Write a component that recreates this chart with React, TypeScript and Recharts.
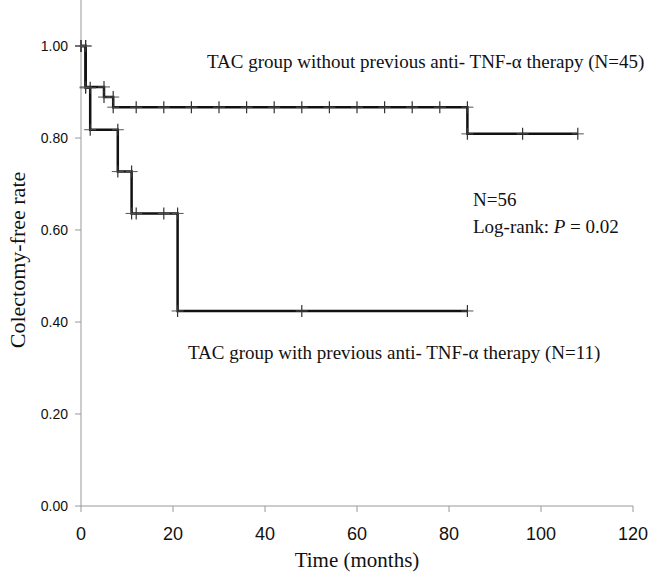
import React from 'react';
import { LineChart, Line, XAxis, YAxis, Customized } from 'recharts';

// Kaplan-Meier estimates (event and censor times in months)
const withoutTimes = [0, 1, 5, 7, 12, 18, 24, 30, 36, 42, 48, 54, 60, 66, 72, 78, 84, 96, 108];
const withoutRates = [1.0, 0.911, 0.889, 0.867, 0.867, 0.867, 0.867, 0.867, 0.867, 0.867, 0.867, 0.867, 0.867, 0.867, 0.867, 0.867, 0.809, 0.809, 0.809];

const withTimes = [0, 1, 2, 8, 11, 12, 18, 21, 48, 84];
const withRates = [1.0, 0.909, 0.818, 0.727, 0.636, 0.636, 0.636, 0.424, 0.424, 0.424];

const xTicks = [0, 20, 40, 60, 80, 100, 120];
const yTicks = [0, 0.2, 0.4, 0.6, 0.8, 1.0];

// duplicate each drop as two corner points, like a spreadsheet step plot
const toSteps = (times: number[], rates: number[]) => {
  const pts: { t: number; s: number }[] = [];
  times.forEach((t, i) => {
    if (i > 0 && rates[i] !== rates[i - 1]) pts.push({ t, s: rates[i - 1] });
    pts.push({ t, s: rates[i] });
  });
  return pts;
};

const withoutData = toSteps(withoutTimes, withoutRates);
const withData = toSteps(withTimes, withRates);

const PlusDot = (props: any) => {
  const { cx, cy, index } = props;
  if (cx == null || cy == null) return <g key={index} />;
  return (
    <g key={index}>
      <line x1={cx - 6} x2={cx + 6} y1={cy} y2={cy} stroke="#555" strokeWidth={1} />
      <line x1={cx} x2={cx} y1={cy - 6} y2={cy + 6} stroke="#333" strokeWidth={1.2} />
    </g>
  );
};

const serif = '"Liberation Serif", "Times New Roman", serif';
const sans = '"Liberation Sans", Arial, sans-serif';

const Annotations = () => (
  <g fontFamily={serif} fontSize={19} fill="#111">
    <text x={207} y={68}>TAC group without previous anti- TNF-α therapy (N=45)</text>
    <text x={473} y={206}>N=56</text>
    <text x={473} y={233}>
      Log-rank: <tspan fontStyle="italic">P</tspan> = 0.02
    </text>
    <text x={188} y={359}>TAC group with previous anti- TNF-α therapy (N=11)</text>
    <text x={357} y={567} textAnchor="middle" fontSize={21}>Time (months)</text>
    <text x={25} y={260} textAnchor="middle" fontSize={22} transform="rotate(-90 25 260)">
      Colectomy-free rate
    </text>
  </g>
);

export default function App() {
  return (
    <div style={{ position: 'absolute', left: 0, top: 0, background: '#fff' }}>
      <LineChart width={649} height={573} margin={{ top: 0, right: 16, left: 0, bottom: 0 }}>
        <XAxis
          type="number"
          dataKey="t"
          domain={[0, 120]}
          ticks={xTicks}
          allowDuplicatedCategory={false}
          height={67}
          stroke="#999"
          tickSize={6}
          tickMargin={15}
          tick={{ fill: '#111', fontSize: 18, fontFamily: sans }}
        />
        <YAxis
          type="number"
          domain={[0, 1.1]}
          ticks={yTicks}
          width={81}
          stroke="#999"
          tickSize={6}
          tickMargin={7}
          tickFormatter={(v: number) => v.toFixed(2)}
          tick={{ fill: '#111', fontSize: 14, fontFamily: sans }}
        />
        <Line
          data={withoutData}
          dataKey="s"
          type="linear"
          stroke="#111"
          strokeWidth={2.5}
          dot={PlusDot}
          activeDot={false}
          isAnimationActive={false}
        />
        <Line
          data={withData}
          dataKey="s"
          type="linear"
          stroke="#111"
          strokeWidth={2.5}
          dot={PlusDot}
          activeDot={false}
          isAnimationActive={false}
        />
        <Customized component={Annotations} />
      </LineChart>
    </div>
  );
}
